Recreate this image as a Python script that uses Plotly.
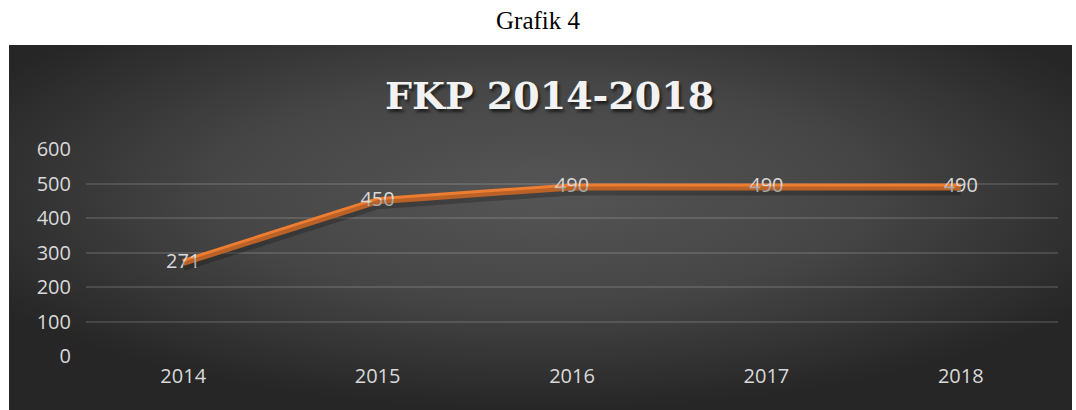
import base64
import plotly.graph_objects as go

years = ["2014", "2015", "2016", "2017", "2018"]
values = [271, 450, 490, 490, 490]
y_ticks = [0, 100, 200, 300, 400, 500, 600]

W, H = 1076, 410
L, R, T, B = 86, 18, 149, 54
pw, ph = W - L - R, H - T - B

# panel in pixels
px0, px1, py0, py1 = 9, 1072, 45, 410

svg = f'''<svg xmlns="http://www.w3.org/2000/svg" width="{px1-px0}" height="{py1-py0}" viewBox="0 0 {px1-px0} {py1-py0}" preserveAspectRatio="none">
<defs><radialGradient id="g" cx="0.5" cy="0.4" r="0.6">
<stop offset="0" stop-color="#555555"/><stop offset="0.5" stop-color="#464646"/><stop offset="1" stop-color="#262626"/>
</radialGradient></defs>
<rect width="100%" height="100%" fill="url(#g)"/></svg>'''
src = "data:image/svg+xml;base64," + base64.b64encode(svg.encode()).decode()

def xp(px):
    return (px - L) / pw

def yp(py):
    return (H - B - py) / ph

fig = go.Figure()

# soft shadow of line (same data, axis shifted a few pixels down)
shift = 600 * 4 / ph
fig.add_trace(go.Scatter(x=years, y=values, mode="lines", yaxis="y2",
                         line=dict(color="rgba(0,0,0,0.22)", width=9),
                         hoverinfo="skip", showlegend=False))
fig.add_trace(go.Scatter(x=years, y=values, mode="lines+text",
                         text=[str(v) for v in values], textposition="middle center",
                         textfont=dict(family="Open Sans", size=20, color="#d9d9d9"),
                         line=dict(color="#ED7D31", width=7), showlegend=False))

fig.update_layout(
    width=W, height=H,
    margin=dict(l=L, r=R, t=T, b=B),
    paper_bgcolor="white", plot_bgcolor="rgba(0,0,0,0)",
    images=[dict(source=src, xref="paper", yref="paper", x=xp(px0), y=yp(py0),
                 sizex=(px1 - px0) / pw, sizey=(py1 - py0) / ph,
                 xanchor="left", yanchor="top", sizing="stretch", layer="below")],
    xaxis=dict(type="category", range=[-0.5, 4.5], showgrid=False, zeroline=False,
               showline=False, ticks="", ticklabelstandoff=6,
               tickfont=dict(family="Open Sans", size=20, color="#d9d9d9")),
    yaxis=dict(range=[0, 600], tickvals=y_ticks, showgrid=True,
               gridcolor="rgba(255,255,255,0.13)",
               gridwidth=1.5, zeroline=False, showline=False, ticks="",
               ticklabelstandoff=14,
               tickfont=dict(family="Open Sans", size=20, color="#d9d9d9")),
    yaxis2=dict(range=[shift, 600 + shift], overlaying="y", visible=False),
    annotations=[
        dict(text="Grafik 4", x=xp(538), xref="paper", y=yp(21), yref="paper",
             xanchor="center", yanchor="middle", showarrow=False,
             font=dict(family="Liberation Serif", size=25, color="#000000")),
        dict(text="<b>FKP 2014-2018</b>", x=xp(549), xref="paper", y=yp(95), yref="paper",
             xanchor="center", yanchor="middle", showarrow=False,
             font=dict(family="DejaVu Serif", size=38, color="#f2f2f2",
                       shadow="2px 3px 3px rgba(0,0,0,0.6)")),
    ],
)

fig.write_html("out.html", config={"displayModeBar": False},
               post_script="document.body.style.margin='0';document.body.style.overflow='hidden';")
